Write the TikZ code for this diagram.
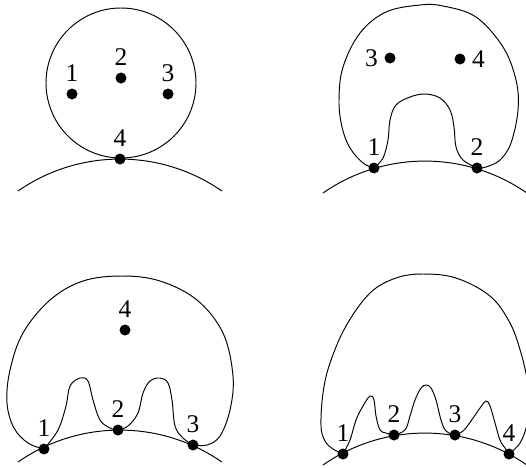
\documentclass[tikz,border=0pt]{standalone}
\usepackage{fontspec}
\setmainfont{Liberation Serif}
\usetikzlibrary{positioning}

\tikzset{
  dot/.style={circle, fill=black, inner sep=0pt, minimum size=2.2mm},
  curve/.style={line width=0.55pt},
  loop/.style={curve, smooth, tension=0.6},
}

\begin{document}
\begin{tikzpicture}[x=0.02cm, y=-0.02cm, font=\fontsize{14.5}{17}\selectfont]
    % 地面圆弧的半径与角度
    \def\R{178.6}
    \def\angA{-124.8}
    \def\angB{-55.2}
    \useasboundingbox (0,0) rectangle (526,467);

    % --- 图一：圆与切点 ---
    \begin{scope}
      \draw[curve] (121,83) circle[radius=75];
      \draw[curve] (18,191) arc[start angle=\angA, end angle=\angB, radius=\R];
      \node[dot, label={above:1}] (a1) at (72,94) {};
      \node[dot, label={above:2}] (a2) at (121,78) {};
      \node[dot, label={above:3}] (a3) at (168,94) {};
      \node[dot, label={above:4}] (a4) at (120,159) {};
    \end{scope}

    % --- 图二：两个接触点 ---
    \begin{scope}[shift={(263,0)}]
      \draw[curve] (60,193) arc[start angle=\angA, end angle=\angB, radius=\R];
      \node[dot, label={above:1}] (b1) at (111,168) {};
      \node[dot, label={above:2}] (b2) at (214,168) {};
      \node[dot, label={left:3}] (b3) at (127,58) {};
      \node[dot, label={right:4}] (b4) at (197,59) {};
      % 外轮廓
      \draw[loop] plot coordinates {(b1.center) (100,163) (87,148) (79,127) (76,100)
        (80,67) (97,33) (123,12) (157,5) (180,6) (213,17) (240,47) (253,80)
        (255,110) (248,143) (237,160) (223,167) (b2.center)};
      % 内拱
      \draw[loop] plot coordinates {(b1.center) (120,158) (125,140) (127,120) (133,105)
        (147,97) (162,94) (177,98) (187,110) (191,127) (193,147) (200,160) (b2.center)};
    \end{scope}

    % --- 图三：三个接触点 ---
    \begin{scope}[shift={(0,233)}]
      \draw[curve] (18,229) arc[start angle=\angA, end angle=\angB, radius=\R];
      \node[dot, label={above:1}] (c1) at (44,216) {};
      \node[dot, label={above:2}] (c2) at (118,197) {};
      \node[dot, label={above:3}] (c3) at (193,212) {};
      \node[dot, label={above:4}] (c4) at (125,97) {};
      % 外轮廓
      \draw[loop] plot coordinates {(c1.center) (28,210) (14,195) (7,170) (10,137)
        (23,100) (50,67) (83,48) (122,43) (160,48) (197,67) (223,100) (233,143)
        (230,177) (220,203) (207,212) (c3.center)};
      % 内侧两个凸起
      \draw[loop] plot coordinates {(c1.center) (58,197) (66,173) (70,153) (80,145)
        (88,148) (93,167) (100,187) (110,195) (c2.center)};
      \draw[loop] plot coordinates {(c2.center) (128,193) (138,180) (143,160) (150,148)
        (160,145) (168,150) (172,167) (175,193) (183,205) (c3.center)};
    \end{scope}

    % --- 图四：四个接触点 ---
    \begin{scope}[shift={(263,233)}]
      \draw[curve] (60,232) arc[start angle=\angA, end angle=\angB, radius=\R];
      \node[dot, label={above:1}] (d1) at (80,221) {};
      \node[dot, label={above:2}] (d2) at (131,202) {};
      \node[dot, label={above:3}] (d3) at (192,202) {};
      \node[dot, label={above:4}] (d4) at (246,221) {};
      % 外轮廓（右侧超出画面）
      \draw[loop] plot coordinates {(d1.center) (70,216) (62,208) (58,193) (60,160)
        (67,130) (83,93) (107,60) (133,45) (160,41) (193,45) (227,63) (247,90)
        (258,120) (265,150) (268,170) (264,192) (257,210) (d4.center)};
      % 内侧三个凸起
      \draw[loop] plot coordinates {(d1.center) (87,207) (93,187) (100,173) (107,163)
        (111,167) (113,183) (117,197) (123,200) (d2.center)};
      \draw[loop] plot coordinates {(d2.center) (142,197) (147,183) (152,167) (158,155)
        (163,152) (168,155) (173,167) (178,187) (183,198) (d3.center)};
      \draw[loop] plot coordinates {(d3.center) (200,198) (208,188) (217,175) (223,168)
        (227,173) (232,190) (237,207) (242,215) (d4.center)};
    \end{scope}

  \end{tikzpicture}
\end{document}
